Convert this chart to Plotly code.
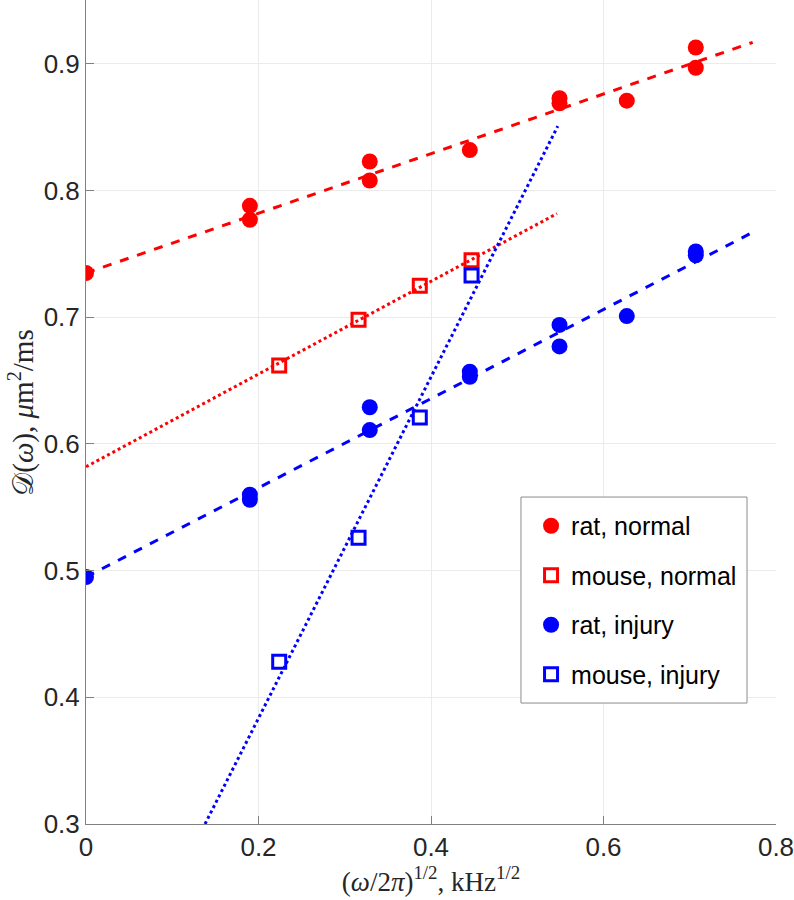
import plotly.graph_objects as go

# ---- data ----
rat_normal_x = [0.0, 0.19, 0.19, 0.329, 0.329, 0.445, 0.549, 0.549, 0.627, 0.707, 0.707]
rat_normal_y = [0.735, 0.788, 0.777, 0.823, 0.808, 0.832, 0.873, 0.869, 0.871, 0.913, 0.897]

mouse_normal_x = [0.224, 0.316, 0.387, 0.447]
mouse_normal_y = [0.662, 0.698, 0.725, 0.745]

rat_injury_x = [0.0, 0.19, 0.19, 0.329, 0.329, 0.445, 0.445, 0.549, 0.549, 0.627, 0.707, 0.707]
rat_injury_y = [0.495, 0.560, 0.556, 0.629, 0.611, 0.657, 0.653, 0.694, 0.677, 0.701, 0.752, 0.749]

mouse_injury_x = [0.224, 0.316, 0.387, 0.447]
mouse_injury_y = [0.428, 0.526, 0.621, 0.733]

# fitted lines: (intercept, slope, x_start, x_end)
fit_rat_normal = (0.735, 0.2355, 0.0, 0.773)
fit_mouse_normal = (0.582, 0.366, 0.0, 0.546)
fit_rat_injury = (0.495, 0.352, 0.0, 0.773)
fit_mouse_injury = (0.1141, 1.347, 0.138, 0.547)

x_ticks = [0, 0.2, 0.4, 0.6, 0.8]
x_tick_labels = ["0", "0.2", "0.4", "0.6", "0.8"]
y_ticks = [0.3, 0.4, 0.5, 0.6, 0.7, 0.8, 0.9]
y_tick_labels = ["0.3", "0.4", "0.5", "0.6", "0.7", "0.8", "0.9"]

x_title = "(<i>ω</i>/2<i>π</i>)<sup>1/2</sup>, kHz<sup>1/2</sup>"
y_title = "𝒟(<i>ω</i>), <i>μ</i>m<sup>2</sup>/ms"

RED = "#ff0000"
BLUE = "#0000ff"


def fit_line(params):
    a, b, x0, x1 = params
    return [x0, x1], [a + b * x0, a + b * x1]


fig = go.Figure()

for params, color, dash in [
    (fit_rat_normal, RED, "dash"),
    (fit_mouse_normal, RED, "dot"),
    (fit_rat_injury, BLUE, "dash"),
    (fit_mouse_injury, BLUE, "dot"),
]:
    lx, ly = fit_line(params)
    fig.add_trace(go.Scatter(x=lx, y=ly, mode="lines", showlegend=False,
                             line=dict(color=color, width=3, dash=dash),
                             hoverinfo="skip"))

fig.add_trace(go.Scatter(x=rat_normal_x, y=rat_normal_y, mode="markers",
                         name="rat, normal", legendgroup="a",
                         marker=dict(symbol="circle", size=16, color=RED)))
fig.add_trace(go.Scatter(x=mouse_normal_x, y=mouse_normal_y, mode="markers",
                         name="mouse, normal", legendgroup="b",
                         marker=dict(symbol="square-open", size=13, color=RED,
                                     line=dict(width=3, color=RED))))
fig.add_trace(go.Scatter(x=rat_injury_x, y=rat_injury_y, mode="markers",
                         name="rat, injury", legendgroup="c",
                         marker=dict(symbol="circle", size=16, color=BLUE)))
fig.add_trace(go.Scatter(x=mouse_injury_x, y=mouse_injury_y, mode="markers",
                         name="mouse, injury", legendgroup="d",
                         marker=dict(symbol="square-open", size=13, color=BLUE,
                                     line=dict(width=3, color=BLUE))))

tick_font = dict(family="Liberation Sans, Arial, sans-serif", size=26, color="#262626")
xtitle_font = dict(family="Liberation Serif, DejaVu Serif, serif", size=27, color="#262626")
ytitle_font = dict(family="Liberation Serif, DejaVu Serif, serif", size=29, color="#262626")

fig.update_layout(
    width=794, height=900,
    margin=dict(l=86, r=18, t=0, b=76),
    paper_bgcolor="white", plot_bgcolor="white",
    showlegend=True,
    legend=dict(
        x=0.645, y=0.3896, xanchor="left", yanchor="top",
        bgcolor="rgba(0,0,0,0)", borderwidth=0,
        font=dict(family="Liberation Sans, Arial, sans-serif", size=25, color="#000000"),
        tracegroupgap=14, traceorder="grouped",
    ),
    shapes=[dict(type="rect", xref="paper", yref="paper",
                 x0=0.6304, x1=0.958, y0=0.1468, y1=0.3968,
                 line=dict(color="#8c8c8c", width=1), fillcolor="white",
                 layer="above")],
    annotations=[dict(text=y_title, textangle=-90, xref="paper", yref="paper",
                      x=-0.0945, y=0.5, xanchor="center", yanchor="middle",
                      showarrow=False, font=ytitle_font)],
    xaxis=dict(
        range=[0, 0.8], tickvals=x_ticks, ticktext=x_tick_labels,
        showgrid=True, gridcolor="#ebebeb", gridwidth=1,
        zeroline=False, showline=True, linecolor="#808080", linewidth=1,
        ticks="inside", ticklen=8, tickcolor="#808080",
        tickfont=tick_font, automargin=False, ticklabeloverflow="allow",
        title=dict(text=x_title, font=xtitle_font, standoff=4),
    ),
    yaxis=dict(
        range=[0.3, 0.9505], tickvals=y_ticks, ticktext=y_tick_labels,
        showgrid=True, gridcolor="#ebebeb", gridwidth=1,
        zeroline=False, showline=True, linecolor="#808080", linewidth=1,
        ticks="inside", ticklen=8, tickcolor="#808080",
        tickfont=tick_font, automargin=False, ticklabeloverflow="allow",
    ),
)

# remove the default page margin so the figure sits at the window's corner
fig.write_html("out.html", config={"displayModeBar": False},
               post_script="document.body.style.margin='0';")
